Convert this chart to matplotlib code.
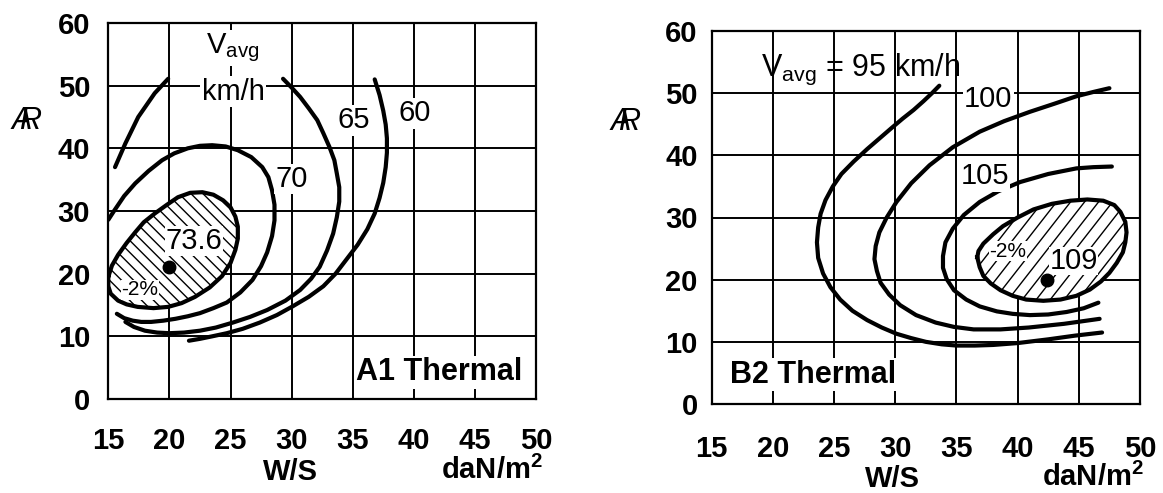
import numpy as np
import matplotlib
matplotlib.use("Agg")
import matplotlib.pyplot as plt
from matplotlib.patches import Polygon

plt.rcParams['font.family'] = ['Liberation Sans', 'DejaVu Sans']
plt.rcParams['mathtext.fontset'] = 'custom'
plt.rcParams['mathtext.rm'] = 'Liberation Sans'
plt.rcParams['mathtext.it'] = 'Liberation Sans:italic'

# ---------------- data (W/S in daN/m^2, aspect ratio AR) ----------------
x_ticks = [15, 20, 25, 30, 35, 40, 45, 50]
y_ticks = [0, 10, 20, 30, 40, 50, 60]

# A1 Thermal
a1_top_ws = [15.55, 16.4, 17.45, 18.8, 19.9]
a1_top_ar = [37.0, 40.8, 45.0, 48.8, 51.1]

a1_70_ws = [15.0, 15.5, 16.3, 17.2, 18.3, 19.4, 20.4, 21.5, 22.5, 23.5, 24.6, 25.6, 26.7, 27.6, 28.1,
            28.4, 28.6, 28.6, 28.4, 28.0, 27.5, 26.8, 25.8, 24.7, 23.6, 22.5, 21.5, 20.5, 19.5,
            18.5, 17.7, 17.0, 16.3, 15.7]
a1_70_ar = [28.6, 30.1, 32.4, 34.4, 36.4, 38.1, 39.2, 40.0, 40.4, 40.5, 40.3, 39.7, 38.6, 37.0, 35.4,
            33.3, 31.0, 28.5, 26.0, 23.4, 21.2, 19.0, 17.0, 15.4, 14.5, 13.7, 13.2, 12.8, 12.5,
            12.3, 12.3, 12.5, 12.9, 13.6]

a1_65_ws = [29.3, 30.0, 30.7, 31.4, 32.1, 32.6, 33.1, 33.5, 33.7, 33.9, 33.9, 33.7, 33.4, 32.9, 32.3,
            31.6, 30.7, 29.5, 28.0, 26.6, 25.2, 23.8, 22.5, 21.2, 20.0, 19.0, 18.0, 17.1, 16.4]
a1_65_ar = [51.1, 49.7, 48.2, 46.4, 44.5, 42.4, 40.2, 38.1, 36.0, 33.8, 31.5, 29.0, 26.4, 23.7, 21.1,
            19.2, 17.4, 15.7, 14.2, 13.1, 12.2, 11.4, 10.9, 10.6, 10.5, 10.6, 10.9, 11.5, 12.3]

a1_60_ws = [36.8, 37.2, 37.5, 37.7, 37.8, 37.8, 37.7, 37.5, 37.2, 36.8, 36.2, 35.4, 34.5, 33.6, 32.6,
            31.4, 30.1, 28.8, 27.4, 26.0, 24.7, 23.5, 22.5, 21.6]
a1_60_ar = [51.0, 48.5, 46.0, 43.8, 41.6, 39.3, 37.0, 34.5, 32.1, 29.6, 27.1, 24.6, 22.3, 20.0, 18.0,
            16.3, 14.8, 13.4, 12.2, 11.2, 10.5, 10.0, 9.6, 9.3]

a1_best_ws = [15.0, 15.3, 15.8, 16.5, 17.2, 17.9, 18.8, 19.8, 20.7, 21.7, 22.7, 23.6, 24.4, 25.0, 25.4,
              25.6, 25.6, 25.4, 25.0, 24.3, 23.3, 22.1, 21.0, 19.9, 18.7, 17.4, 16.5, 15.8, 15.2, 15.0]
a1_best_ar = [19.5, 21.3, 23.0, 24.9, 26.6, 28.2, 29.6, 31.0, 32.2, 32.9, 33.0, 32.6, 31.7, 30.6, 29.1,
              27.5, 25.6, 23.8, 21.7, 19.6, 17.8, 16.3, 15.3, 14.7, 14.5, 14.7, 15.1, 15.7, 16.8, 18.0]
a1_opt = (20.0, 21.0)

# B2 Thermal
b2_95_ws = [33.6, 33.0, 32.3, 31.5, 30.6, 29.7, 28.7, 27.7, 26.6, 25.6, 24.9, 24.3, 23.9, 23.7, 23.6,
            23.7, 24.1, 24.7, 25.5, 26.5, 27.7, 28.9, 30.1, 31.3, 32.5, 33.8, 35.0, 36.5, 38.0, 40.0,
            42.5, 44.7, 46.9]
b2_95_ar = [51.2, 50.0, 48.7, 47.3, 45.9, 44.4, 42.7, 41.0, 39.0, 37.0, 35.0, 32.8, 30.6, 28.4, 26.0,
            23.5, 21.0, 18.8, 16.8, 15.0, 13.5, 12.3, 11.3, 10.6, 10.0, 9.6, 9.4, 9.4, 9.5, 9.8,
            10.4, 11.0, 11.5]

b2_100_ws = [47.5, 46.2, 44.8, 43.0, 41.0, 38.9, 36.9, 34.7, 32.8, 31.3, 30.1, 29.3, 28.7, 28.4, 28.3,
             28.5, 28.8, 29.5, 30.4, 31.7, 33.3, 34.8, 36.4, 38.6, 40.9, 43.8, 46.7]
b2_100_ar = [50.8, 50.2, 49.5, 48.3, 47.0, 45.5, 43.8, 41.3, 38.4, 35.5, 32.5, 30.0, 27.6, 25.4, 23.3,
             21.4, 19.5, 17.6, 15.9, 14.3, 13.1, 12.4, 12.0, 12.0, 12.3, 12.9, 13.7]

b2_105_ws = [47.7, 46.2, 44.8, 42.5, 40.2, 38.4, 36.9, 35.6, 34.7, 34.1, 33.9, 33.9, 34.2, 34.8, 35.8,
             36.9, 38.3, 39.6, 41.0, 42.5, 44.0, 45.4, 46.6]
b2_105_ar = [38.2, 38.1, 37.9, 37.0, 35.7, 34.2, 32.5, 30.4, 28.2, 26.0, 23.8, 21.9, 20.1, 18.3, 16.8,
             15.7, 14.9, 14.5, 14.3, 14.4, 14.8, 15.4, 16.3]

b2_best_ws = [36.7, 36.8, 37.2, 38.0, 38.8, 40.0, 41.3, 42.8, 44.3, 45.7, 47.0, 47.9, 48.4, 48.8, 48.9,
              48.8, 48.6, 48.1, 47.5, 46.8, 45.9, 44.8, 43.5, 42.1, 40.7, 39.6, 38.6, 37.8, 37.2, 36.9]
b2_best_ar = [23.6, 24.6, 25.8, 27.3, 28.6, 30.0, 31.3, 32.2, 32.7, 32.9, 32.7, 32.0, 30.9, 29.3, 27.6,
              26.0, 24.4, 22.7, 21.1, 19.7, 18.4, 17.4, 16.8, 16.6, 16.8, 17.4, 18.3, 19.4, 20.6, 22.0]
b2_opt = (42.4, 19.9)

# ---------------- figure ----------------
W, H = 1163, 493
fig = plt.figure(figsize=(W / 100, H / 100), dpi=100)
ax1 = fig.add_axes([108.3 / W, 1 - 399 / H, 427.7 / W, 376 / H])
ax2 = fig.add_axes([711.7 / W, 1 - 404 / H, 428.3 / W, 373 / H])

CURVE_LW = 3.0
TICK_FS = 21
LBL_FS = 21


def setup(ax, xpad, ypad):
    ax.set_xlim(15, 50)
    ax.set_ylim(0, 60)
    ax.set_xticks(x_ticks)
    ax.set_yticks(y_ticks)
    ax.set_xticklabels([str(v) for v in x_ticks])
    ax.set_yticklabels([str(v) for v in y_ticks])
    ax.tick_params(length=0, labelsize=TICK_FS)
    ax.tick_params(axis='x', pad=xpad)
    ax.tick_params(axis='y', pad=ypad)
    for lab in ax.get_xticklabels() + ax.get_yticklabels():
        lab.set_fontweight('bold')
    ax.grid(True, color='black', linewidth=1.4)
    ax.set_axisbelow(True)
    for s in ax.spines.values():
        s.set_linewidth(1.6)


def curve(ax, xs, ys):
    ax.plot(xs, ys, color='black', lw=CURVE_LW, solid_capstyle='round',
            solid_joinstyle='round', zorder=4)


def hatched(ax, xs, ys, direction, step_px):
    pts = np.column_stack([xs, ys])
    patch = Polygon(pts, closed=True, facecolor='white', edgecolor='none', zorder=2)
    ax.add_patch(patch)
    bb = ax.get_window_extent()
    w, h = bb.width, bb.height
    for c in np.arange(-h, w + h, step_px):
        if direction == 'back':   # "\" lines at 45 deg
            xpx = np.array([c, c + h])
            ypx = np.array([h, 0.0])
        else:                      # "/" lines, ~52 deg
            xpx = np.array([c, c + h / 1.28])
            ypx = np.array([0.0, h])
        ln, = ax.plot(xpx / w, ypx / h, transform=ax.transAxes, color='black',
                      lw=1.0, zorder=3)
        ln.set_clip_path(patch)
    ax.plot(list(xs) + [xs[0]], list(ys) + [ys[0]], color='black', lw=CURVE_LW,
            solid_joinstyle='round', zorder=4)


wb = dict(facecolor='white', edgecolor='none', pad=1.0)

# ---- left panel ----
setup(ax1, xpad=20, ypad=13)
curve(ax1, a1_top_ws, a1_top_ar)
curve(ax1, a1_70_ws, a1_70_ar)
curve(ax1, a1_65_ws, a1_65_ar)
curve(ax1, a1_60_ws, a1_60_ar)
hatched(ax1, a1_best_ws, a1_best_ar, 'back', 12)
ax1.plot(*a1_opt, 'o', color='black', ms=9, zorder=6)

ax1.text(30.0, 35.1, '70', fontsize=LBL_FS, ha='center', va='center', bbox=wb, zorder=5)
ax1.text(35.1, 44.5, '65', fontsize=LBL_FS, ha='center', va='center', bbox=wb, zorder=5)
ax1.text(40.1, 45.6, '60', fontsize=LBL_FS, ha='center', va='center', bbox=wb, zorder=5)
ax1.text(22.0, 25.2, '73.6', fontsize=LBL_FS, ha='center', va='center',
         bbox=dict(facecolor='white', edgecolor='none', pad=0.5), zorder=5)
ax1.text(17.6, 17.4, '-2%', fontsize=15, ha='center', va='center',
         bbox=dict(facecolor='white', edgecolor='none', pad=0.3), zorder=5)
ax1.text(25.2, 56.0, r'$\mathregular{V_{avg}}$', fontsize=LBL_FS, ha='center', va='center',
         bbox=wb, zorder=5)
ax1.text(25.2, 49.0, 'km/h', fontsize=LBL_FS, ha='center', va='center', bbox=wb, zorder=5)
ax1.text(42.1, 4.3, 'A1 Thermal', fontsize=22, fontweight='bold', ha='center', va='center',
         bbox=wb, zorder=5)

# ---- right panel ----
setup(ax2, xpad=22, ypad=10)
curve(ax2, b2_95_ws, b2_95_ar)
curve(ax2, b2_100_ws, b2_100_ar)
curve(ax2, b2_105_ws, b2_105_ar)
hatched(ax2, b2_best_ws, b2_best_ar, 'fwd', 14)
ax2.plot(*b2_opt, 'o', color='black', ms=9, zorder=6)

ax2.text(37.6, 49.0, '100', fontsize=LBL_FS, ha='center', va='center', bbox=wb, zorder=5)
ax2.text(37.3, 36.6, '105', fontsize=LBL_FS, ha='center', va='center', bbox=wb, zorder=5)
ax2.text(39.2, 24.6, '-2%', fontsize=15, ha='center', va='center',
         bbox=dict(facecolor='white', edgecolor='none', pad=0.3), zorder=5)
ax2.text(44.6, 23.0, '109', fontsize=LBL_FS, ha='center', va='center',
         bbox=dict(facecolor='white', edgecolor='none', pad=0.3), zorder=5)
ax2.text(27.2, 52.8, r'$\mathregular{V_{avg}}$ = 95 km/h', fontsize=22, ha='center',
         va='baseline', zorder=5)
ax2.text(23.3, 4.7, 'B2 Thermal', fontsize=22, fontweight='bold', ha='center', va='center',
         bbox=wb, zorder=5)

# ---- axis labels (figure pixel positions) ----
def ftext(px, py, s, **kw):
    fig.text(px / W, 1 - py / H, s, **kw)

ftext(290, 472, 'W/S', fontsize=21, fontweight='bold', ha='center', va='center')
ftext(543, 470, r'daN/m$^{\mathregular{2}}$', fontsize=21, fontweight='bold', ha='right', va='center')
ftext(892, 479, 'W/S', fontsize=21, fontweight='bold', ha='center', va='center')
ftext(1144, 477, r'daN/m$^{\mathregular{2}}$', fontsize=21, fontweight='bold', ha='right', va='center')

# aspect-ratio symbol: italic A and R sharing a stroke (one text)
for cx, cy in [(26, 121), (625, 122)]:
    ftext(cx, cy, r'$\mathit{A}\!\!\!\mathit{R}$', fontsize=22, ha='center', va='center')

fig.savefig('out.png', dpi=100, facecolor='white')
